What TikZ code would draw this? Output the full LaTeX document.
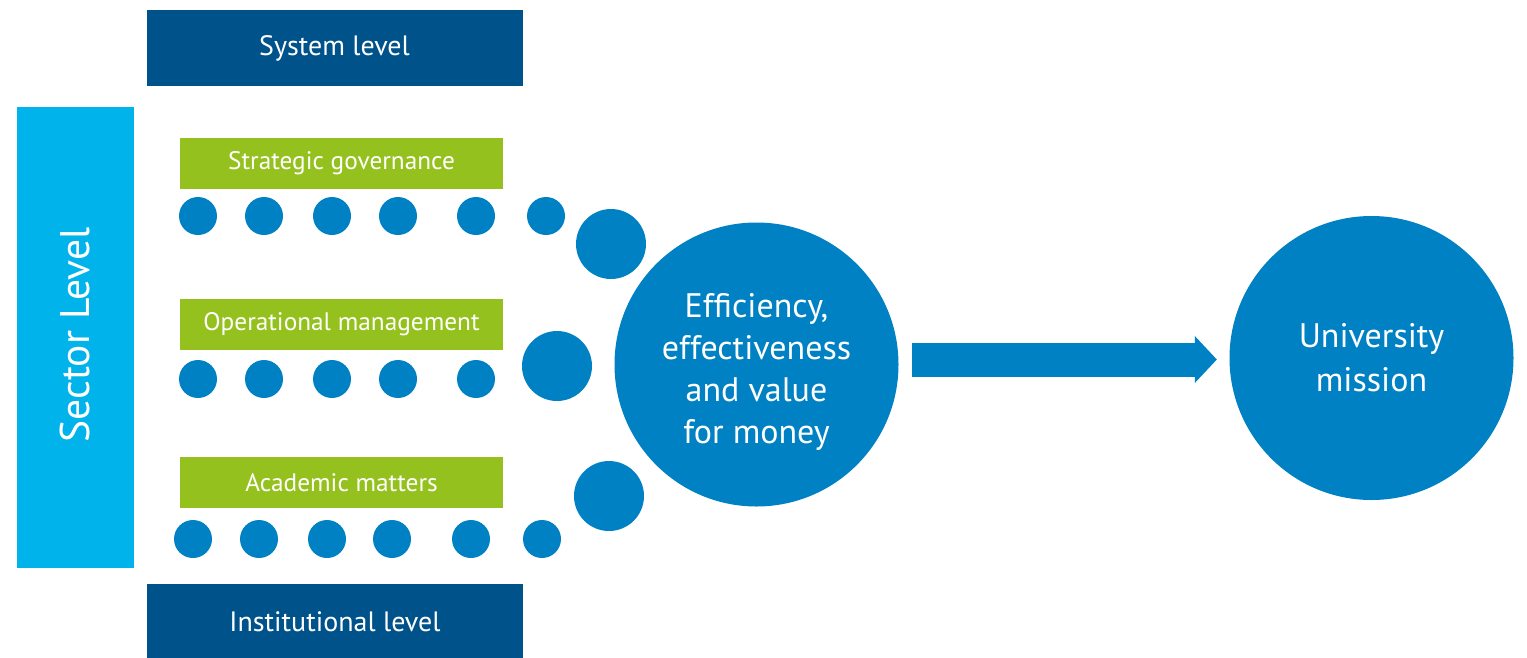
\documentclass[tikz,border=0pt]{standalone}
\usepackage{fontspec}
\setmainfont{PT Sans}
\usetikzlibrary{arrows.meta}
\definecolor{darkblue}{HTML}{00528A}
\definecolor{cyanblue}{HTML}{00B3EB}
\definecolor{leafgreen}{HTML}{95C11F}
\definecolor{dotblue}{HTML}{0081C4}
\tikzset{
  levelbox/.style={fill=darkblue, text=white, inner sep=0pt, minimum width=376pt, minimum height=76pt, font=\fontsize{28}{34}\selectfont},
  sectorbox/.style={fill=cyanblue, inner sep=0pt, minimum width=117pt, minimum height=461pt},
  sectortext/.style={text=white, rotate=90, font=\fontsize{41.5}{48}\selectfont},
  greenbox/.style={fill=leafgreen, text=white, inner sep=0pt, minimum width=323pt, minimum height=51pt, font=\fontsize{25.3}{30}\selectfont},
  smalldot/.style={circle, fill=dotblue, inner sep=0pt, minimum size=38pt},
  middot/.style={circle, fill=dotblue, inner sep=0pt, minimum size=70pt},
  bigdisc/.style={circle, fill=dotblue, inner sep=0pt, minimum size=284pt},
  disctext/.style={text=white, align=center},
  bigarrow/.style={draw=dotblue, line width=34pt, -{Triangle[width=47pt, length=22pt, line width=0pt, fill=dotblue]}}
}
\begin{document}
\begin{tikzpicture}[x=1pt,y=-1pt]
\useasboundingbox (0,0) rectangle (1527,657);
% level boxes
\node[levelbox] (system) at (334.5,48) {System level};
\node[levelbox] (inst) at (335,622) {Institutional level};
\node[sectorbox] (sector) at (75.5,337.5) {};
\node[sectortext] (sectorlabel) at (75,335) {Sector Level};
% green boxes
\node[greenbox] (strat) at (341.5,163) {Strategic governance};
\node[greenbox] (oper) at (341.5,324.5) {Operational management};
\node[greenbox] (acad) at (341.5,482.5) {Academic matters};
% dots row 1
\foreach \x [count=\i] in {198,264,332,398,476,546}
  \node[smalldot] (a\i) at (\x,216) {};
% dots row 2
\foreach \x [count=\i] in {198,264,332,398,476}
  \node[smalldot] (b\i) at (\x,379) {};
% dots row 3
\foreach \x [count=\i] in {193,259,327,392,471,542}
  \node[smalldot] (c\i) at (\x,539) {};
% medium dots
\node[middot] (m1) at (611,244) {};
\node[middot] (m2) at (557,366) {};
\node[middot] (m3) at (609,496) {};
% big discs
\node[bigdisc] (eff) at (756.5,364.5) {};
\node[disctext, font=\fontsize{34}{42}\selectfont] (efftext) at (756.5,372) {Efficiency,\\effectiveness\\and value\\for money};
\node[bigdisc, disctext, font=\fontsize{34}{44}\selectfont] (univ) at (1371.5,358) {University\\mission};
% arrow
\draw[bigarrow] ([xshift=13.5pt,yshift=5pt]eff.east) -- ([xshift=-12.5pt,yshift=-1.5pt]univ.west);
\end{tikzpicture}
\end{document}
